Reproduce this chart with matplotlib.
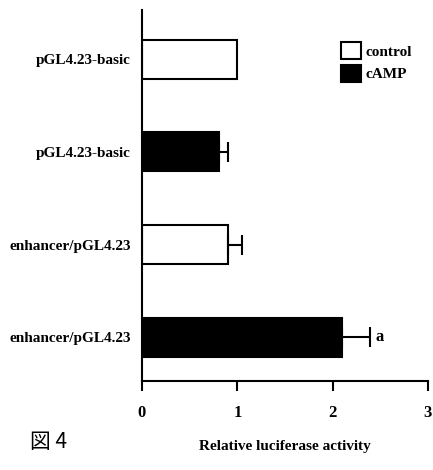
import matplotlib.pyplot as plt
from matplotlib.patches import Patch

# datos
etiquetas = ['pGL4.23-basic', 'pGL4.23-basic', 'enhancer/pGL4.23', 'enhancer/pGL4.23']
valores = [1.0, 0.81, 0.90, 2.10]
errores = [0.0, 0.09, 0.15, 0.29]
tratamiento = ['control', 'cAMP', 'control', 'cAMP']
marcas = ['', '', '', 'a']
xticks = [0, 1, 2, 3]

colores = {'control': 'white', 'cAMP': 'black'}
serif = ['Liberation Serif', 'DejaVu Serif']

fig = plt.figure(figsize=(4.33, 4.70), dpi=100)
ax = fig.add_axes([142/433, 1 - 381/470, 286/433, 371/470])

pos = list(range(len(valores)))
for i in pos:
    ax.barh(i, valores[i], height=0.42, color=colores[tratamiento[i]],
            edgecolor='black', linewidth=1.5, zorder=2)
    if errores[i] > 0:
        ax.errorbar(valores[i], i, xerr=[[0], [errores[i]]], fmt='none',
                    ecolor='black', elinewidth=1.5, capsize=7, capthick=1.5, zorder=3)
    if marcas[i]:
        ax.text(valores[i] + errores[i] + 0.06, i, marcas[i], va='center', ha='left',
                fontsize=12, fontweight='bold', family=serif)

ax.set_xlim(0, 3)
ax.set_ylim(3.47, -0.53)
ax.set_yticks(pos)
ax.set_yticklabels(etiquetas, fontsize=11, fontweight='bold', family=serif)
ax.set_xticks(xticks)
ax.set_xticklabels([str(t) for t in xticks], fontsize=12, fontweight='bold', family=serif)
ax.tick_params(axis='y', length=0, pad=8)
ax.tick_params(axis='x', length=7, width=1.5, direction='out', pad=10)
ax.spines['top'].set_visible(False)
ax.spines['right'].set_visible(False)
ax.spines['left'].set_linewidth(1.5)
ax.spines['bottom'].set_linewidth(1.5)

ax.set_xlabel('Relative luciferase activity', fontsize=11, fontweight='bold',
              family=serif, labelpad=14)

handles = [Patch(facecolor='white', edgecolor='black', linewidth=1.5, label='control'),
           Patch(facecolor='black', edgecolor='black', linewidth=1.5, label='cAMP')]
leg = fig.legend(handles=handles, loc='upper left', bbox_to_anchor=(335/433, 1 - 36/470),
                 frameon=False, handlelength=1.3, handleheight=1.3, handletextpad=0.3,
                 labelspacing=0.4, borderaxespad=0,
                 prop={'family': serif, 'weight': 'bold', 'size': 11})

fig.text(30/433, 1 - 442/470, '図 4', fontsize=15, va='center', ha='left',
         family=['Noto Sans CJK JP', 'DejaVu Sans'])

fig.savefig('out.png', dpi=100)
